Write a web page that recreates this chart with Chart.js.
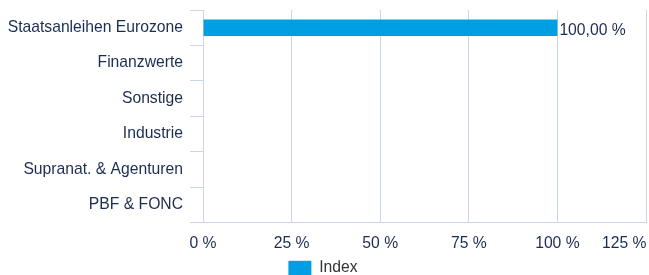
<!DOCTYPE html>
<html>
<head>
<meta charset="utf-8">
<script src="https://cdn.jsdelivr.net/npm/chart.js@4/dist/chart.umd.min.js"></script>
<style>
    html, body { margin: 0; padding: 0; background: #fff; }
    #wrap { width: 649px; height: 275px; }
</style>
</head>
<body>
<div id="wrap"><canvas id="chart"></canvas></div>
<script>
// Chart data
const categories = ['Staatsanleihen Eurozone', 'Finanzwerte', 'Sonstige', 'Industrie', 'Supranat. & Agenturen', 'PBF & FONC'];
const indexValues = [100, 0, 0, 0, 0, 0];
const xTicks = [0, 25, 50, 75, 100, 125];
const seriesName = 'Index';

const textColor = '#1c2d52';
const gridColor = '#ccd6eb';
const barColor = '#009fe3';
const fontFamily = '"Liberation Sans", Arial, Helvetica, sans-serif';

function formatPct(v) {
    return v.toFixed(2).replace('.', ',') + ' %';
}

// Value labels at the end of each bar
const barLabels = {
    id: 'barLabels',
    afterDatasetsDraw(chart) {
        const ctx = chart.ctx;
        const meta = chart.getDatasetMeta(0);
        ctx.save();
        ctx.font = '15.7px ' + fontFamily;
        ctx.fillStyle = textColor;
        ctx.textAlign = 'left';
        ctx.textBaseline = 'middle';
        meta.data.forEach((bar, i) => {
            const v = indexValues[i];
            if (!v) return;
            ctx.fillText(formatPct(v), bar.x + 2, bar.y + 3);
        });
        ctx.restore();
    }
};

const ctx = document.getElementById('chart').getContext('2d');
new Chart(ctx, {
    type: 'bar',
    data: {
        labels: categories,
        datasets: [{
            label: seriesName,
            data: indexValues,
            backgroundColor: barColor,
            borderWidth: 0,
            barPercentage: 0.47,
            categoryPercentage: 1
        }]
    },
    options: {
        indexAxis: 'y',
        responsive: true,
        maintainAspectRatio: false,
        animation: false,
        layout: { padding: { top: 10, left: 0, right: 3, bottom: -11 } },
        plugins: {
            legend: {
                position: 'bottom',
                labels: {
                    color: '#333',
                    font: { family: fontFamily, size: 15.7 },
                    boxWidth: 23,
                    boxHeight: 15,
                    padding: 0
                }
            },
            tooltip: { enabled: false }
        },
        scales: {
            x: {
                min: 0,
                max: 125,
                afterBuildTicks(scale) {
                    scale.ticks = xTicks.map(v => ({ value: v }));
                },
                afterFit(scale) {
                    scale.paddingRight = 0;
                    scale.height -= 5;
                },
                grid: { color: gridColor, drawTicks: false },
                border: { color: gridColor },
                ticks: {
                    color: textColor,
                    font: { family: fontFamily, size: 15.7 },
                    padding: 12,
                    maxRotation: 0,
                    autoSkip: false,
                    callback: v => v === 125 ? '125 %' + ' '.repeat(10) : v + ' %'
                }
            },
            y: {
                afterFit(scale) {
                    scale.width = 203;
                    scale.paddingTop = 0;
                    scale.paddingBottom = 0;
                },
                grid: {
                    color: gridColor,
                    drawOnChartArea: false,
                    drawTicks: true,
                    tickLength: 13,
                    offset: true
                },
                border: { display: false },
                ticks: {
                    color: textColor,
                    font: { family: fontFamily, size: 15.7 },
                    padding: 7,
                    autoSkip: false
                }
            }
        }
    },
    plugins: [barLabels]
});
</script>
</body>
</html>
